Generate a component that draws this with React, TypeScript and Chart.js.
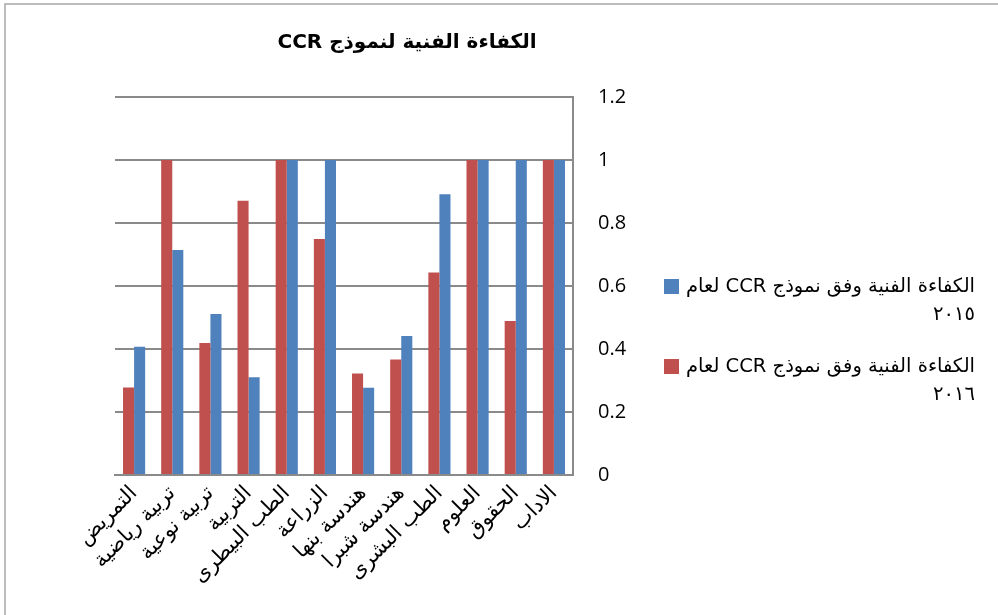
import { useEffect, useRef } from 'react';
import { Chart, registerables } from 'chart.js';
Chart.register(...registerables);

const categories: string[] = [
  'التمريض',
  'تربية رياضية',
  'تربية نوعية',
  'التربية',
  'الطب البيطرى',
  'الزراعة',
  'هندسة بنها',
  'هندسة شبرا',
  'الطب البشرى',
  'العلوم',
  'الحقوق',
  'الاداب',
];

const values2015 = [0.407, 0.714, 0.511, 0.31, 1, 1, 0.277, 0.441, 0.891, 1, 1, 1];
const values2016 = [0.278, 1, 0.419, 0.871, 1, 0.749, 0.322, 0.367, 0.643, 1, 0.489, 1];

const yTicks = [0, 0.2, 0.4, 0.6, 0.8, 1, 1.2];

const titleText = 'الكفاءة الفنية لنموذج CCR';
const legendLine1 = 'الكفاءة الفنية وفق نموذج CCR لعام';
const legendYears = ['٢٠١٥', '٢٠١٦'];

const BLUE = '#4F81BD';
const RED = '#C0504D';
const GRID = '#8a8a8a';

export default function App() {
  const ref = useRef<HTMLCanvasElement>(null);
  useEffect(() => {
    document.body.style.margin = '0';
    const canvas = ref.current!;
    const decor = {
      id: 'decor',
      afterDraw(chart: any) {
        const ctx = chart.ctx as CanvasRenderingContext2D;
        ctx.save();
        // frame
        ctx.strokeStyle = '#a6a6a6';
        ctx.lineWidth = 1.5;
        ctx.beginPath();
        ctx.moveTo(5, 620);
        ctx.lineTo(5, 4);
        ctx.lineTo(1000, 4);
        ctx.stroke();
        // title
        ctx.direction = 'rtl';
        ctx.fillStyle = '#000';
        ctx.font = 'bold 20px "DejaVu Sans"';
        ctx.textAlign = 'center';
        ctx.textBaseline = 'middle';
        ctx.fillText(titleText, 407, 43);
        // legend
        const entries = [
          { color: BLUE, sq: 279, l1: 287, l2: 315, year: legendYears[0] },
          { color: RED, sq: 359, l1: 367, l2: 395, year: legendYears[1] },
        ];
        ctx.font = '19.5px "DejaVu Sans"';
        ctx.textAlign = 'right';
        for (const e of entries) {
          ctx.fillStyle = e.color;
          ctx.fillRect(664, e.sq, 15, 15);
          ctx.fillStyle = '#000';
          ctx.fillText(legendLine1, 975, e.l1);
          ctx.fillText(e.year, 975, e.l2);
        }
        ctx.restore();
      },
    };
    const chart = new Chart(canvas, {
      type: 'bar',
      data: {
        labels: categories,
        datasets: [
          { label: legendLine1 + ' ' + legendYears[1], data: values2016, backgroundColor: RED, borderWidth: 0 },
          { label: legendLine1 + ' ' + legendYears[0], data: values2015, backgroundColor: BLUE, borderWidth: 0 },
        ],
      },
      options: {
        responsive: false,
        animation: false,
        layout: { padding: { left: 115, right: 345, top: 97, bottom: 0 } },
        plugins: { legend: { display: false }, title: { display: false }, tooltip: { enabled: false } },
        datasets: { bar: { categoryPercentage: 0.58, barPercentage: 1 } },
        scales: {
          x: {
            grid: { display: false, drawTicks: false },
            border: { display: true, color: GRID, width: 2 },
            ticks: {
              autoSkip: false,
              maxRotation: 45,
              minRotation: 45,
              padding: 6,
              color: '#000',
              font: { family: 'DejaVu Sans', size: 21 },
            },
            afterFit(scale: any) {
              scale.height = 140;
            },
          },
          y: {
            position: 'right',
            min: 0,
            max: 1.2,
            afterBuildTicks(scale: any) {
              scale.ticks = yTicks.map((v) => ({ value: v }));
            },
            grid: { color: GRID, lineWidth: 2, drawTicks: false },
            border: { display: true, color: GRID, width: 2 },
            ticks: {
              padding: 25,
              color: '#000',
              font: { family: 'Open Sans', size: 20 },
              callback: (v: any) => String(Math.round(Number(v) * 10) / 10),
            },
            afterFit(scale: any) {
              scale.width = 80;
            },
          },
        },
      },
      plugins: [decor],
    });
    return () => chart.destroy();
  }, []);
  return <canvas ref={ref} width={998} height={615} style={{ display: 'block' }} />;
}
